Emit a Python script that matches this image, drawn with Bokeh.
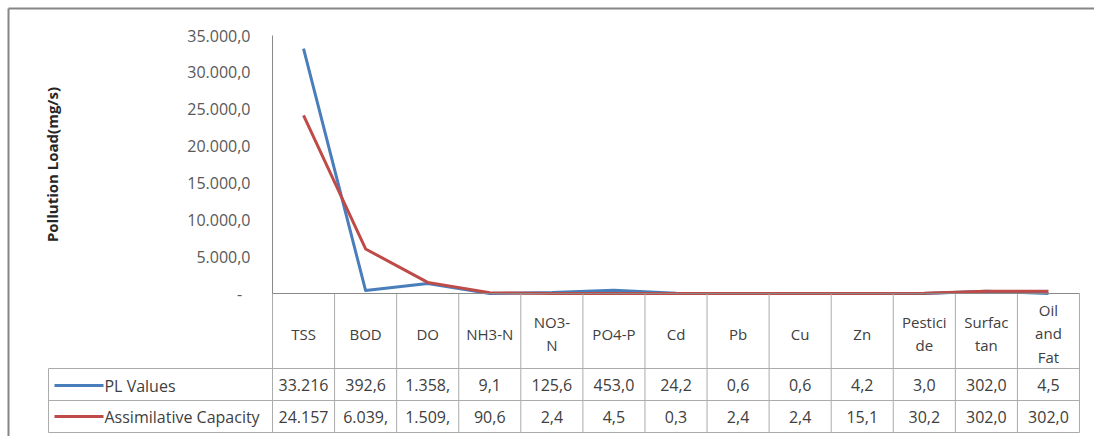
import math
from bokeh.plotting import figure
from bokeh.models import Range1d, FactorRange, FixedTicker
from bokeh.core.properties import value
from bokeh.embed import file_html
from bokeh.resources import INLINE

# ---------------- data ----------------
categories = ["TSS", "BOD", "DO", "NH3-N", "NO3-N", "PO4-P", "Cd", "Pb", "Cu",
              "Zn", "Pesticide", "Surfactan", "Oil and Fat"]
header_labels = ["TSS", "BOD", "DO", "NH3-N", "NO3-\nN", "PO4-P", "Cd", "Pb", "Cu",
                 "Zn", "Pestici\nde", "Surfac\ntan", "Oil\nand\nFat"]
pl_values = [33216, 392.6, 1358, 9.1, 125.6, 453.0, 24.2, 0.6, 0.6, 4.2, 3.0, 302.0, 4.5]
ac_values = [24157, 6039, 1509, 90.6, 2.4, 4.5, 0.3, 2.4, 2.4, 15.1, 30.2, 302.0, 302.0]
pl_labels = ["33.216", "392,6", "1.358,", "9,1", "125,6", "453,0", "24,2", "0,6", "0,6",
             "4,2", "3,0", "302,0", "4,5"]
ac_labels = ["24.157", "6.039,", "1.509,", "90,6", "2,4", "4,5", "0,3", "2,4", "2,4",
             "15,1", "30,2", "302,0", "302,0"]
series_names = ["PL Values", "Assimilative Capacity"]
y_ticks = [0, 5000, 10000, 15000, 20000, 25000, 30000, 35000]
y_tick_labels = ["-\u00a0\u00a0", "5.000,0", "10.000,0", "15.000,0", "20.000,0",
                 "25.000,0", "30.000,0", "35.000,0"]
y_title = "Pollution Load(mg/s)"

# ---------------- layout constants (pixels) ----------------
W, H = 1094, 436
FL, FR = 272, 1079          # frame left / right
FT, FB = 35, 432            # frame top / bottom
Y0 = 293                    # pixel row of value 0
Y_MAX = 35000
N = len(categories)

BLUE = "#4A7EBB"
RED = "#BE4B48"
GRID = "#ABABAB"
AXIS = "#898989"
TXT = "#404040"
FONT = "Open Sans"


def ypx(py):
    return (Y0 - py) / (Y0 - FT) * Y_MAX


def xpx(px):
    return (px - FL) / (FR - FL) * N


p = figure(width=W, height=H,
           x_range=FactorRange(factors=categories),
           y_range=Range1d(ypx(FB), Y_MAX),
           x_axis_location=None,
           output_backend="svg", toolbar_location=None,
           min_border_left=FL, min_border_right=W - FR,
           min_border_top=FT, min_border_bottom=H - FB)
p.outline_line_color = None
p.xgrid.visible = False
p.ygrid.visible = False
p.background_fill_color = "white"
p.border_fill_color = "white"

ax = p.yaxis[0]
ax.ticker = FixedTicker(ticks=y_ticks)
ax.major_label_overrides = dict(zip(y_ticks, y_tick_labels))
ax.bounds = (0, Y_MAX)
ax.major_tick_out = 0
ax.major_tick_in = 0
ax.minor_tick_out = 0
ax.minor_tick_in = 0
ax.axis_line_color = AXIS
ax.axis_line_width = 1
ax.major_label_standoff = 22
ax.major_label_text_font = FONT
ax.major_label_text_font_size = "16px"
ax.major_label_text_color = "#595959"

# y-axis title (centred on the value axis extent)
p.text(x=[xpx(52)], y=[Y_MAX / 2], text=[y_title], angle=math.pi / 2,
       text_align="center", text_baseline="middle",
       text_font=value(FONT), text_font_size="15px", text_font_style="bold",
       text_color="#262626", level="overlay")

# ---------------- table grid ----------------
row_lines = [368, 400, 432]
hx0, hx1, hy = [], [], []
for r in row_lines:
    hx0.append(xpx(48)); hx1.append(N); hy.append(ypx(r))
p.segment(x0=hx0, y0=hy, x1=hx1, y1=hy, line_color=GRID, line_width=1, level="overlay")
vx = list(range(N + 1))
p.segment(x0=vx, y0=[ypx(Y0)] * len(vx), x1=vx, y1=[ypx(FB)] * len(vx),
          line_color=GRID, line_width=1, level="overlay")
p.segment(x0=[xpx(48)], y0=[ypx(368)], x1=[xpx(48)], y1=[ypx(FB)],
          line_color=GRID, line_width=1, level="overlay")
# category axis line
p.segment(x0=[0], y0=[0], x1=[N], y1=[0], line_color=AXIS, line_width=1, level="overlay")

# outer chart border (top and left)
p.segment(x0=[xpx(8), xpx(8)], y0=[ypx(8), ypx(8)], x1=[xpx(W + 5), xpx(8)], y1=[ypx(8), ypx(H + 5)],
          line_color="#858585", line_width=2, level="overlay")

# ---------------- series lines ----------------
p.line(x=categories, y=pl_values, line_color=BLUE, line_width=3, line_join="round")
p.line(x=categories, y=ac_values, line_color=RED, line_width=3, line_join="round")

# ---------------- table text ----------------
p.text(x=categories, y=[ypx(333)] * N, text=header_labels,
       text_align="center", text_baseline="middle", text_line_height=1.18,
       text_font=value(FONT), text_font_size="15px", text_color=TXT, level="overlay")
p.text(x=categories, y=[ypx(384)] * N, text=pl_labels,
       text_align="center", text_baseline="middle",
       text_font=value(FONT), text_font_size="16px", text_color=TXT, level="overlay")
p.text(x=categories, y=[ypx(416)] * N, text=ac_labels,
       text_align="center", text_baseline="middle",
       text_font=value(FONT), text_font_size="16px", text_color=TXT, level="overlay")

# legend keys in the table
leg_y = [ypx(385), ypx(416)]
p.segment(x0=[xpx(54)] * 2, y0=leg_y, x1=[xpx(103)] * 2, y1=leg_y,
          line_color=[BLUE, RED], line_width=3, level="overlay")
p.text(x=[xpx(104)] * 2, y=leg_y, text=series_names,
       text_align="left", text_baseline="middle",
       text_font=value(FONT), text_font_size="16px", text_color=TXT, level="overlay")

open("out.html", "w").write(file_html(p, INLINE))
